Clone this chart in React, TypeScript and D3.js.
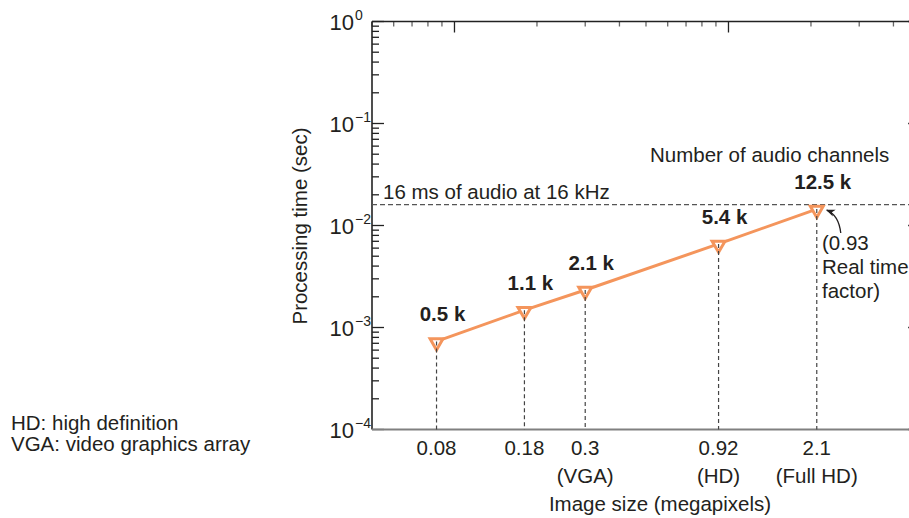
import React from 'react';
import * as d3 from 'd3';

// image size in megapixels (position on the log axis) and tick text
const imageSizes = [0.086, 0.18, 0.3, 0.92, 2.1];
const sizeLabels = ['0.08', '0.18', '0.3', '0.92', '2.1'];
const formatLabels = ['', '', '(VGA)', '(HD)', '(Full HD)'];
// processing time in seconds
const processingTimes = [7.3e-4, 1.48e-3, 2.33e-3, 6.6e-3, 1.45e-2];
// number of audio channels label for each point
const channelLabels = ['0.5 k', '1.1 k', '2.1 k', '5.4 k', '12.5 k'];
const audioLimit = 0.016;
const yDecades = [1e-4, 1e-3, 1e-2, 1e-1, 1];
const legendLines = ['HD: high definition', 'VGA: video graphics array'];
const annotationLines = ['(0.93', 'Real time', 'factor)'];

const FONT = '"Liberation Sans", Arial, Helvetica, sans-serif';
const TEXT = '#231f20';
const ORANGE = '#f4955c';

const App = () => {
  const width = 909;
  const height = 518;
  const left = 372;
  const right = 920;
  const top = 21.5;
  const bottom = 429.5;

  const x = d3.scaleLog().domain([0.05, 5]).range([left, right]);
  const y = d3.scaleLog().domain([1e-4, 1]).range([bottom, top]);

  const isMajor = (v: number) => Math.abs(Math.log10(v) - Math.round(Math.log10(v))) < 1e-9;
  const xTicks = x.ticks();
  const yTicks = y.ticks();

  const points = imageSizes.map((s, i) => ({ s, t: processingTimes[i], i }));
  const line = d3.line<{ s: number; t: number }>()
    .x(d => x(d.s))
    .y(d => y(d.t));

  const tri = d3.symbol().type(d3.symbolTriangle).size(72)();

  const limitY = y(audioLimit);
  const last = points[points.length - 1];
  const lx = x(last.s);
  const ly = y(last.t);

  return (
    <svg width={width} height={height} style={{ position: 'absolute', left: 0, top: 0 }}
      fontFamily={FONT}>
      <defs>
        <marker id="arrow" viewBox="0 0 10 10" refX="9" refY="5" markerWidth="7" markerHeight="7"
          orient="auto-start-reverse">
          <path d="M0,1 L10,5 L0,9 L3,5 Z" fill={TEXT} />
        </marker>
      </defs>

      {/* top axis ticks */}
      {xTicks.map((t, i) => (
        <line key={'xt' + i} x1={x(t)} x2={x(t)} y1={top} y2={top + (isMajor(t) ? 11 : 5)}
          stroke={isMajor(t) ? '#222' : '#666'} strokeWidth={1.3} />
      ))}
      {/* left and right axis ticks */}
      {yTicks.map((t, i) => (
        <g key={'yt' + i}>
          <line x1={left} x2={left + (isMajor(t) ? 12 : 7)} y1={y(t)} y2={y(t)}
            stroke="#222" strokeWidth={1.3} />
          <line x1={right} x2={right - (isMajor(t) ? 12 : 7)} y1={y(t)} y2={y(t)}
            stroke="#444" strokeWidth={1.3} />
        </g>
      ))}

      <line x1={left} x2={right} y1={top} y2={top} stroke="#222" strokeWidth={1.6} />
      <line x1={left} x2={left} y1={top} y2={bottom} stroke="#222" strokeWidth={1.6} />
      <line x1={left} x2={right} y1={bottom} y2={bottom} stroke="#808080" strokeWidth={2} />

      {/* y tick labels */}
      {yDecades.map((d, i) => (
        <g key={'yl' + i} fill={TEXT}>
          <text x={354} y={y(d) + 8} textAnchor="end" fontSize={22}>10</text>
          <text x={355} y={y(d) - 2} fontSize={14}>{Math.log10(d) === 0 ? '0' : '\u2212' + Math.abs(Math.log10(d))}</text>
        </g>
      ))}

      {/* 16 ms reference */}
      <line x1={left} x2={right} y1={limitY} y2={limitY} stroke="#555" strokeWidth={1.2}
        strokeDasharray="5,3" />
      <text x={383} y={199} fontSize={20.5} fill={TEXT}>16 ms of audio at 16 kHz</text>

      {/* series */}
      <path d={line(points) || ''} fill="none" stroke={ORANGE} strokeWidth={3} />
      {points.map(p => (
        <path key={'m' + p.i} d={tri || ''}
          transform={`translate(${x(p.s)},${y(p.t) + 1}) rotate(180)`}
          fill="#fff" stroke={ORANGE} strokeWidth={3} strokeLinejoin="miter" />
      ))}
      {points.map(p => (
        <line key={'v' + p.i} x1={x(p.s)} x2={x(p.s)} y1={y(p.t)} y2={bottom}
          stroke="#444" strokeWidth={1.2} strokeDasharray="4,3" />
      ))}
      {points.map(p => (
        <text key={'c' + p.i} x={x(p.s) + 6} y={y(p.t) - 20} textAnchor="middle"
          fontSize={20.5} fontWeight="bold" fill={TEXT}>{channelLabels[p.i]}</text>
      ))}

      {/* x tick labels */}
      {points.map(p => (
        <g key={'xl' + p.i} fill={TEXT} fontSize={20.5} textAnchor="middle">
          <text x={x(p.s)} y={455}>{sizeLabels[p.i]}</text>
          {formatLabels[p.i] && <text x={x(p.s)} y={483}>{formatLabels[p.i]}</text>}
        </g>
      ))}

      <text x={660} y={511} textAnchor="middle" fontSize={20.5} fill={TEXT}>Image size (megapixels)</text>
      <text transform="translate(307,226) rotate(-90)" textAnchor="middle" fontSize={20.5}
        fill={TEXT}>Processing time (sec)</text>

      <text x={650} y={162} fontSize={20.5} fill={TEXT}>Number of audio channels</text>

      {/* real time factor annotation */}
      <path d={`M${lx + 24},${ly + 24} Q${lx + 22},${ly + 6} ${lx + 10},${ly + 1}`}
        fill="none" stroke={TEXT} strokeWidth={1.3} markerEnd="url(#arrow)" />
      {annotationLines.map((s, i) => (
        <text key={'a' + i} x={822} y={250 + i * 24} fontSize={20.5} fill={TEXT}>{s}</text>
      ))}

      {legendLines.map((s, i) => (
        <text key={'lg' + i} x={11} y={430 + i * 21} fontSize={20.5} fill={TEXT}>{s}</text>
      ))}
    </svg>
  );
};

export default App;
